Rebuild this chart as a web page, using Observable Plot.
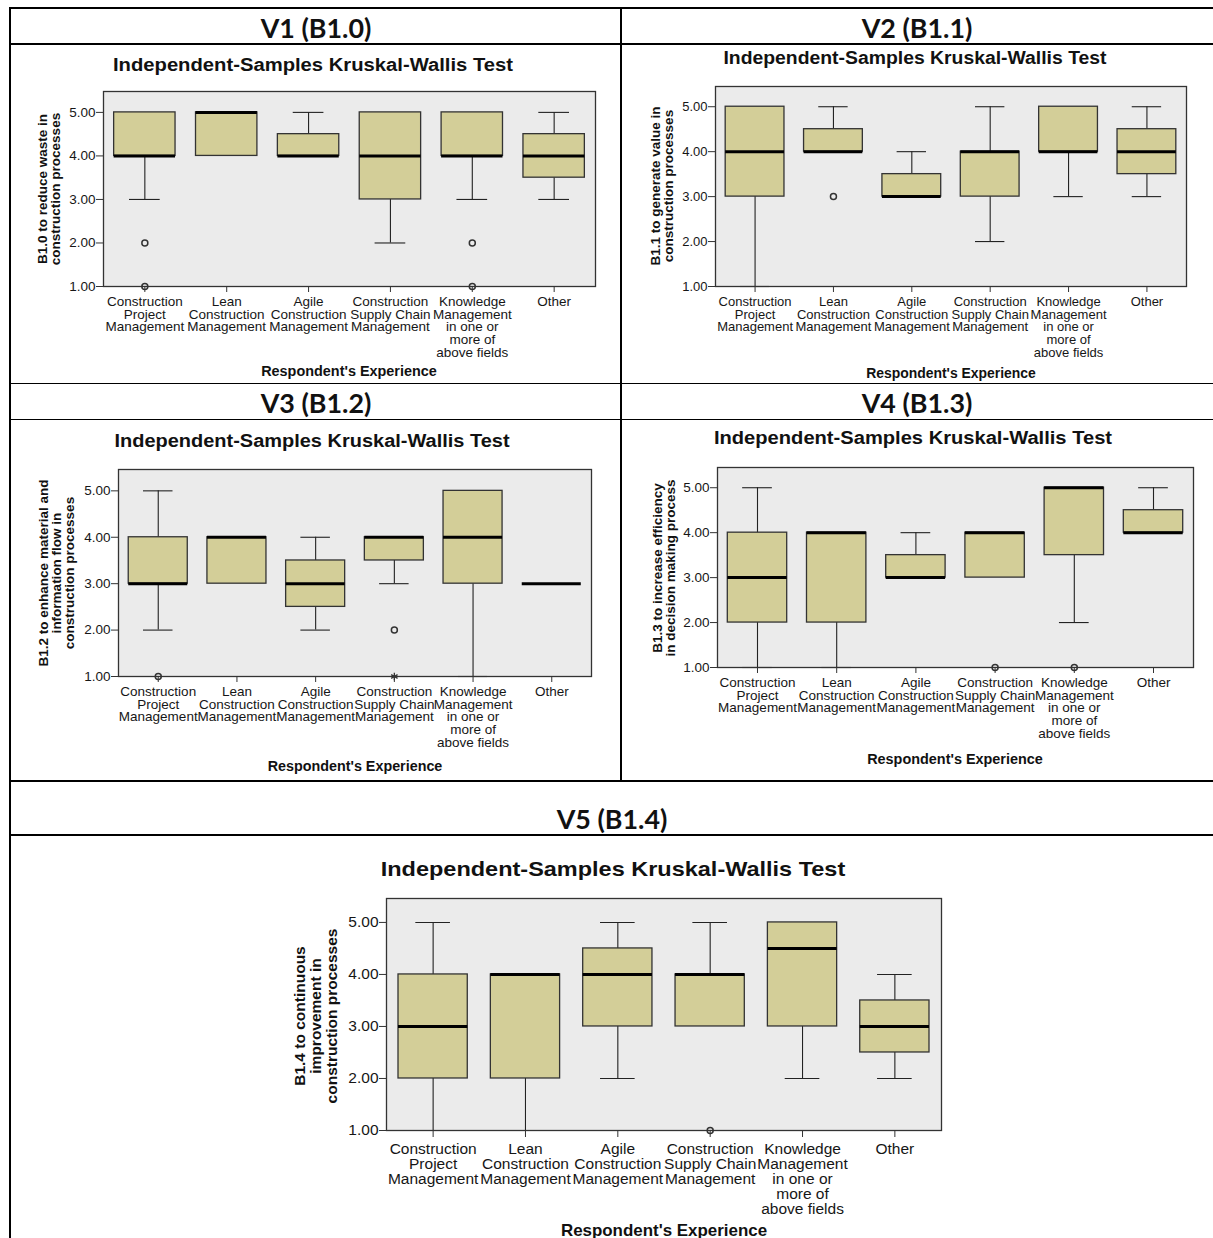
<!DOCTYPE html>
<html><head><meta charset="utf-8">
<script src="https://cdn.jsdelivr.net/npm/d3@7"></script>
<script src="https://cdn.jsdelivr.net/npm/@observablehq/plot@0.6"></script>
<style>
html,body{margin:0;padding:0;background:#fff;}
#page{position:relative;width:1213px;height:1238px;overflow:hidden;background:#fff;}
.line{position:absolute;background:#000;}
.txt{position:absolute;white-space:pre;line-height:1;color:#111;}
.panel{position:absolute;}
.panel svg{overflow:visible;}
</style></head><body><div id="page"></div>
<script>
// ---------------- DATA ----------------
const experience = [
  "Construction Project Management",
  "Lean Construction Management",
  "Agile Construction Management",
  "Construction Supply Chain Management",
  "Knowledge Management in one or more of above fields",
  "Other"
];
const experienceTickLabels = [
  "Construction\nProject\nManagement",
  "Lean\nConstruction\nManagement",
  "Agile\nConstruction\nManagement",
  "Construction\nSupply Chain\nManagement",
  "Knowledge\nManagement\nin one or\nmore of\nabove fields",
  "Other"
];
const yTickValues = [1, 2, 3, 4, 5];
const headers = ["V1 (B1.0)", "V2 (B1.1)", "V3 (B1.2)", "V4 (B1.3)", "V5 (B1.4)"];
const chartTitle = "Independent-Samples Kruskal-Wallis Test";
const xTitle = "Respondent's Experience";
const yTitles = [
  "B1.0 to reduce waste in\nconstruction processes",
  "B1.1 to generate value in\nconstruction processes",
  "B1.2 to enhance material and\ninformation flow in\nconstruction processes",
  "B1.3 to increase efficiency\nin decision making process",
  "B1.4 to continuous\nimprovement in\nconstruction processes"
];

// B1.0
const b10Min    = [3, 4, 4,   2, 3, 3];
const b10Q1     = [4, 4, 4,   3, 4, 3.5];
const b10Median = [4, 5, 4,   4, 4, 4];
const b10Q3     = [5, 5, 4.5, 5, 5, 4.5];
const b10Max    = [5, 5, 5,   5, 5, 5];
const b10Outliers = [[0, 2, "o"], [0, 1, "o"], [4, 2, "o"], [4, 1, "o"]];
// B1.1
const b11Min    = [1, 4,   3,   2, 3, 3];
const b11Q1     = [3, 4,   3,   3, 4, 3.5];
const b11Median = [4, 4,   3,   4, 4, 4];
const b11Q3     = [5, 4.5, 3.5, 4, 5, 4.5];
const b11Max    = [5, 5,   4,   5, 5, 5];
const b11Outliers = [[1, 3, "o"]];
// B1.2
const b12Min    = [2, 3, 2,   3,   1, 3];
const b12Q1     = [3, 3, 2.5, 3.5, 3, 3];
const b12Median = [3, 4, 3,   4,   4, 3];
const b12Q3     = [4, 4, 3.5, 4,   5, 3];
const b12Max    = [5, 4, 4,   4,   5, 3];
const b12Outliers = [[0, 1, "o"], [3, 2, "o"], [3, 1, "*"]];
// B1.3
const b13Min    = [1, 1, 3,   3, 2,   4];
const b13Q1     = [2, 2, 3,   3, 3.5, 4];
const b13Median = [3, 4, 3,   4, 5,   4];
const b13Q3     = [4, 4, 3.5, 4, 5,   4.5];
const b13Max    = [5, 4, 4,   4, 5,   5];
const b13Outliers = [[3, 1, "o"], [4, 1, "o"]];
// B1.4
const b14Min    = [1, 1, 2,   3, 2,   2];
const b14Q1     = [2, 2, 3,   3, 3,   2.5];
const b14Median = [3, 4, 4,   4, 4.5, 3];
const b14Q3     = [4, 4, 4.5, 4, 5,   3.5];
const b14Max    = [5, 4, 5,   5, 5,   4];
const b14Outliers = [[3, 1, "o"]];

// ---------------- LAYOUT ----------------
const page = document.getElementById("page");
const FONT = "'Liberation Sans', Arial, sans-serif";

function line(x, y, w, h) {
  const d = document.createElement("div");
  d.className = "line";
  Object.assign(d.style, {left: x + "px", top: y + "px", width: w + "px", height: h + "px"});
  page.appendChild(d);
}
function text(str, o) {
  const d = document.createElement("div");
  d.className = "txt";
  d.textContent = str;
  Object.assign(d.style, {
    left: o.x + "px", top: o.y + "px", fontSize: o.size + "px",
    fontFamily: o.family || FONT, fontWeight: o.weight || "normal",
    textAlign: "center", lineHeight: (o.lh || o.size) + "px"
  });
  page.appendChild(d);
  let t = "translate(-50%,-50%)";
  if (o.rotate) t += ` rotate(${o.rotate}deg)`;
  if (o.width) t += ` scaleX(${o.width / d.offsetWidth})`;
  d.style.transform = t;
  return d;
}

// table borders
line(9, 7, 1204, 2);
line(9, 7, 2, 1231);
line(620, 7, 2, 775);
line(9, 43, 1204, 2);
line(9, 383, 1204, 1);
line(9, 419, 1204, 1);
line(9, 780, 1204, 2);
line(9, 834, 1204, 2);

// headers
const headerPos = [[316, 27.5], [917, 27.5], [316, 403], [917, 403], [612, 818.5]];
headers.forEach((h, i) => text(h, {x: headerPos[i][0], y: headerPos[i][1], size: 26, weight: "bold",
  family: "Lato, 'Open Sans', sans-serif", width: 110.5}));

const panels = [
  {x0: 103, x1: 595, y0: 91, y1: 286, top: 5.48, title: [312.5, 65, 400], ylab: [49, 188.5], xlab: [349, 371, 176],
   tick: 13.5, lh: 0.944, tsize: 6, tpad: 4.4, ysz: 13.5, ylh: 13.4, xsz: 14.5, tsz: 18,
   stats: [b10Min, b10Q1, b10Median, b10Q3, b10Max], out: b10Outliers},
  {x0: 715, x1: 1186, y0: 86, y1: 286, top: 5.45, title: [915, 58, 383], ylab: [662, 186], xlab: [950.5, 373, 170],
   tick: 13, lh: 0.98, tsize: 6, tpad: 4.4, ysz: 13.5, ylh: 12.5, xsz: 14.5, tsz: 18,
   stats: [b11Min, b11Q1, b11Median, b11Q3, b11Max], out: b11Outliers},
  {x0: 118, x1: 591, y0: 469, y1: 676, top: 5.46, title: [312, 441, 395], ylab: [56.7, 573], xlab: [354.5, 765.7, 175],
   tick: 13.5, lh: 0.944, tsize: 6, tpad: 4.4, ysz: 13.5, ylh: 13.2, xsz: 14.5, tsz: 18,
   stats: [b12Min, b12Q1, b12Median, b12Q3, b12Max], out: b12Outliers},
  {x0: 717, x1: 1193, y0: 467, y1: 667, top: 5.45, title: [912.5, 438, 398], ylab: [664, 568], xlab: [955, 759, 176],
   tick: 13.5, lh: 0.944, tsize: 6, tpad: 4.4, ysz: 13.5, ylh: 12.5, xsz: 14.5, tsz: 18,
   stats: [b13Min, b13Q1, b13Median, b13Q3, b13Max], out: b13Outliers},
  {x0: 386, x1: 941, y0: 898, y1: 1130, top: 5.46, title: [612.7, 868, 464], ylab: [315.5, 1016], xlab: [663.5, 1230, 206],
   tick: 15.5, lh: 0.968, tsize: 7, tpad: 5.4, ysz: 15.5, ylh: 15.8, xsz: 17, tsz: 21,
   stats: [b14Min, b14Q1, b14Median, b14Q3, b14Max], out: b14Outliers}
];

const PI = 0.25, PO = 0.13;

panels.forEach((cfg, p) => {
  const mL = 50, mR = 4, mT = 4, mB = 90;
  const W = cfg.x1 - cfg.x0, H = cfg.y1 - cfg.y0;
  const bw = d3.scaleBand().domain(experience).range([0, W]).paddingInner(PI).paddingOuter(PO).bandwidth();
  const [mn, q1, md, q3, mx] = cfg.stats;
  const rows = experience.map((c, i) => ({cat: c, lo: mn[i], q1: q1[i], med: md[i], q3: q3[i], hi: mx[i]}));
  const out = cfg.out.map(([i, v, k]) => ({cat: experience[i], v, k}));
  const lower = rows.filter(d => d.lo < d.q1);
  const upper = rows.filter(d => d.hi > d.q3);
  const chart = Plot.plot({
    width: W + mL + mR, height: H + mT + mB,
    marginLeft: mL, marginRight: mR, marginTop: mT, marginBottom: mB,
    style: {fontFamily: FONT, background: "transparent", color: "#161616"},
    x: {type: "band", domain: experience, paddingInner: PI, paddingOuter: PO, round: false},
    y: {domain: [1, cfg.top], nice: false},
    marks: [
      Plot.frame({fill: "#ebebeb", stroke: null}),
      Plot.ruleX(lower, {x: "cat", y1: "lo", y2: "q1", stroke: "#222", strokeWidth: 1.1}),
      Plot.ruleX(upper, {x: "cat", y1: "q3", y2: "hi", stroke: "#222", strokeWidth: 1.1}),
      Plot.tickY(lower, {x: "cat", y: "lo", insetLeft: bw / 4, insetRight: bw / 4, stroke: "#222", strokeWidth: 1.1}),
      Plot.tickY(upper, {x: "cat", y: "hi", insetLeft: bw / 4, insetRight: bw / 4, stroke: "#222", strokeWidth: 1.1}),
      Plot.barY(rows, {x: "cat", y1: "q1", y2: "q3", fill: "#d3ce98", stroke: "#333", strokeWidth: 1.3}),
      Plot.tickY(rows, {x: "cat", y: "med", stroke: "#000", strokeWidth: 3}),
      Plot.frame({stroke: "#333", strokeWidth: 1.3}),
      Plot.axisY({ticks: yTickValues, tickFormat: d3.format(".2f"), tickSize: 7, tickPadding: 1,
        fontSize: cfg.tick, label: null, stroke: "#333"}),
      Plot.axisX({tickSize: cfg.tsize, tickPadding: cfg.tpad, fontSize: cfg.tick, lineHeight: cfg.lh,
        tickFormat: d => experienceTickLabels[experience.indexOf(d)], label: null, stroke: "#333"}),
      Plot.dot(out.filter(d => d.k === "o"), {x: "cat", y: "v", r: 3, stroke: "#333", strokeWidth: 1.5, fill: "none"}),
      Plot.dot(out.filter(d => d.k === "*"), {x: "cat", y: "v", r: 3.5, symbol: "asterisk", stroke: "#333", strokeWidth: 1.3})
    ]
  });
  const holder = document.createElement("div");
  holder.className = "panel";
  holder.style.left = (cfg.x0 - mL) + "px";
  holder.style.top = (cfg.y0 - mT) + "px";
  holder.appendChild(chart);
  page.appendChild(holder);

  text(chartTitle, {x: cfg.title[0], y: cfg.title[1], size: cfg.tsz, weight: "bold", width: cfg.title[2]});
  text(yTitles[p], {x: cfg.ylab[0], y: cfg.ylab[1], size: cfg.ysz, lh: cfg.ylh, weight: "bold", rotate: -90});
  text(xTitle, {x: cfg.xlab[0], y: cfg.xlab[1], size: cfg.xsz, weight: "bold", width: cfg.xlab[2]});
});
</script></body></html>
